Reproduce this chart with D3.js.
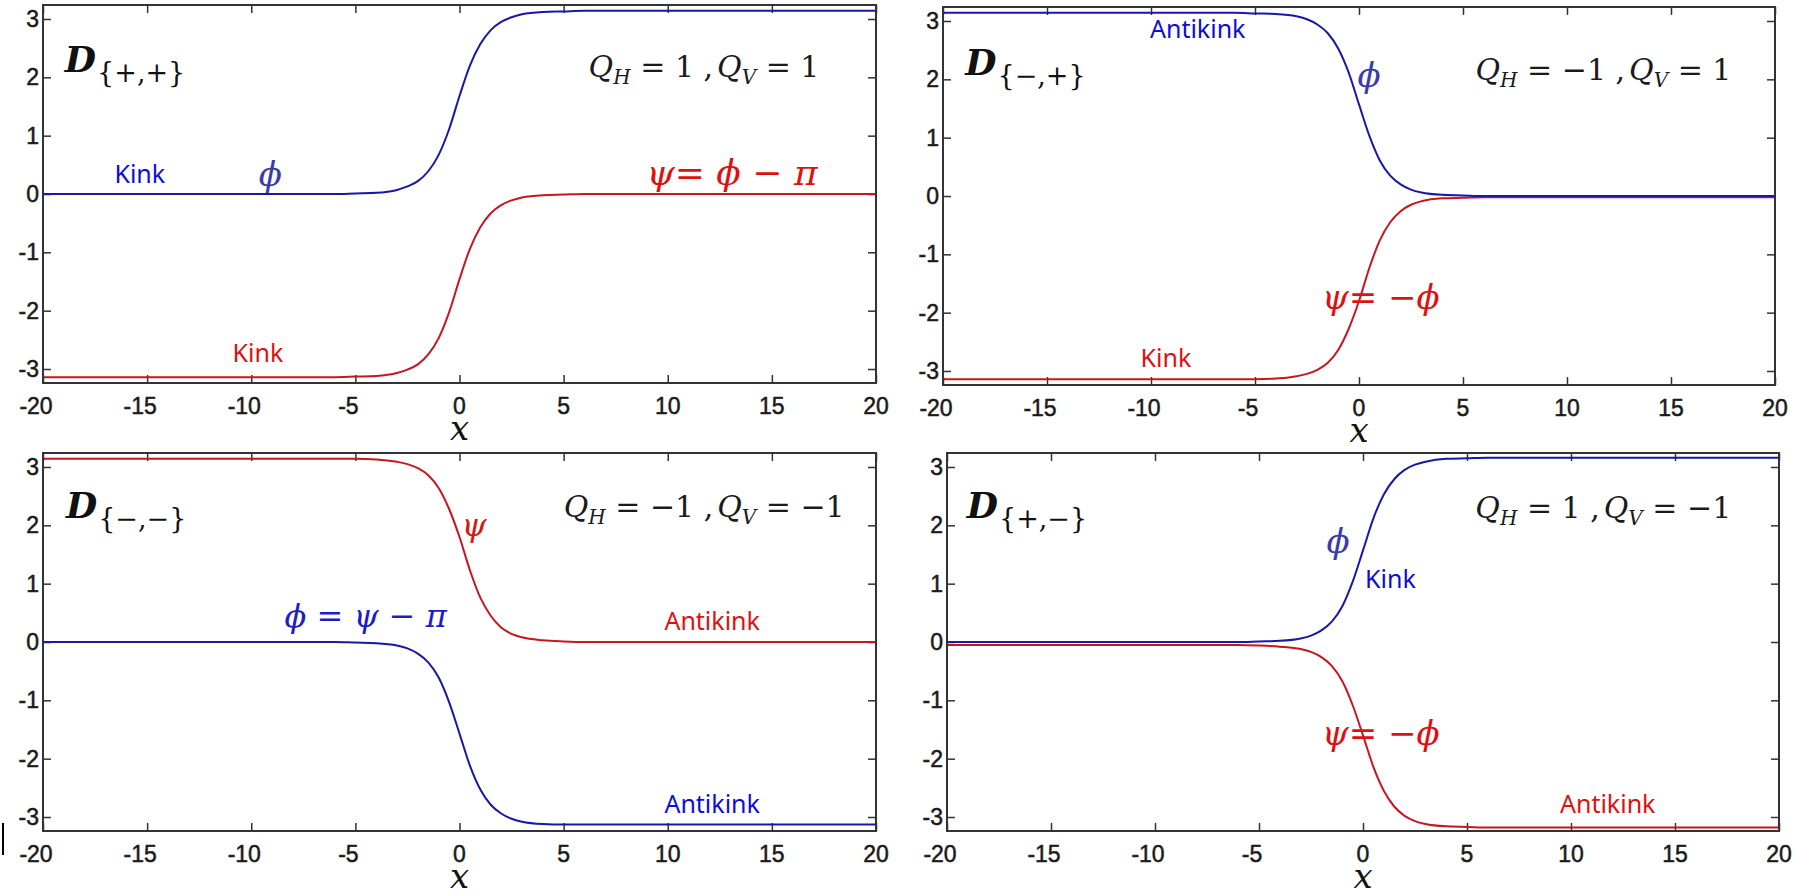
<!DOCTYPE html>
<html>
<head>
<meta charset="utf-8">
<script src="https://cdn.jsdelivr.net/npm/d3@7"></script>
<style>
  body { margin: 0; background: #fff; }
  text { white-space: pre; }
</style>
</head>
<body>
<script>
// sample positions along x, and the four kink / antikink profiles
const xs = [-20, -6, -5, -4, -3, -2.5, -2, -1.5, -1, -0.5, 0, 0.5, 1, 1.5, 2, 2.5, 3, 4, 5, 6, 20];

const tlPhi = [0, 0, 0.01, 0.02, 0.07, 0.13, 0.22, 0.39, 0.67, 1.11, 1.68, 2.2, 2.57, 2.81, 2.95, 3.03, 3.08, 3.12, 3.13, 3.14, 3.14];
const tlPsi = [-3.14, -3.14, -3.13, -3.12, -3.07, -3.01, -2.92, -2.75, -2.47, -2.03, -1.46, -0.94, -0.57, -0.33, -0.19, -0.11, -0.06, -0.02, -0.01, 0, 0];

const trPhi = [3.14, 3.14, 3.13, 3.12, 3.08, 3.03, 2.94, 2.79, 2.53, 2.12, 1.57, 1.03, 0.61, 0.35, 0.2, 0.11, 0.06, 0.02, 0.01, 0, 0];
const trPsi = [-3.14, -3.14, -3.14, -3.13, -3.09, -3.05, -2.98, -2.86, -2.64, -2.28, -1.8, -1.23, -0.76, -0.45, -0.26, -0.15, -0.09, -0.04, -0.03, -0.02, -0.02];

const blPsi = [3.14, 3.14, 3.14, 3.13, 3.09, 3.05, 2.98, 2.86, 2.64, 2.28, 1.8, 1.23, 0.76, 0.45, 0.25, 0.14, 0.08, 0.03, 0.01, 0, 0];
const blPhi = [0, 0, -0.01, -0.02, -0.06, -0.11, -0.2, -0.35, -0.61, -1.03, -1.57, -2.12, -2.53, -2.79, -2.94, -3.03, -3.08, -3.12, -3.13, -3.13, -3.13];

const brPhi = [0, 0, 0.01, 0.02, 0.06, 0.11, 0.2, 0.35, 0.61, 1.03, 1.57, 2.12, 2.53, 2.79, 2.95, 3.04, 3.09, 3.14, 3.15, 3.16, 3.16];
const brPsi = [-0.05, -0.05, -0.06, -0.08, -0.12, -0.17, -0.26, -0.41, -0.67, -1.08, -1.6, -2.14, -2.55, -2.82, -2.98, -3.07, -3.12, -3.16, -3.17, -3.18, -3.18];

const xTicks = [-20, -15, -10, -5, 0, 5, 10, 15, 20];
const yTicks = [-3, -2, -1, 0, 1, 2, 3];
const xDomain = [-20, 20];
const yDomain = [-3.24, 3.24];

const signs = ["{+,+}", "{\u2212,+}", "{\u2212,\u2212}", "{+,\u2212}"];
const chargeH = ["1", "\u22121", "\u22121", "1"];
const chargeV = ["1", "1", "\u22121", "\u22121"];

const W = 1799, H = 895;
const lineBlue = "#1818a8", lineRed = "#c8161e";
const textBlue = "#0c0cdc", textRed = "#e01010", greekBlue = "#3b3bab";

// panel boxes and where the notes sit (note x, y are in data units)
const panels = [
  {left: 43, right: 876, top: 5, bottom: 383, phi: tlPhi, psi: tlPsi,
   tag: [-18.95, 2.09], q: [6.2, 2.01],
   notes: [
     {t: "Kink", x: -16.57, y: 0.19, c: textBlue},
     {t: "\u03d5", x: -9.08, y: 0.14, c: greekBlue, math: 34, mid: true},
     {t: "Kink", x: -10.9, y: -2.88, c: textRed},
     {t: "\u03c8= \u03d5 \u2212 \u03c0", x: 8.98, y: 0.15, c: textRed, math: 36}
   ]},
  {left: 943, right: 1775, top: 7, bottom: 385, phi: trPhi, psi: trPsi,
   tag: [-18.93, 2.07], q: [5.6, 1.99],
   notes: [
     {t: "Antikink", x: -10.05, y: 2.71, c: textBlue},
     {t: "\u03d5", x: 0.48, y: 1.87, c: greekBlue, math: 34, mid: true},
     {t: "\u03c8= \u2212\u03d5", x: -1.78, y: -1.94, c: textRed, math: 34},
     {t: "Kink", x: -10.5, y: -2.93, c: textRed}
   ]},
  {left: 43, right: 876, top: 453, bottom: 831, phi: blPhi, psi: blPsi,
   tag: [-18.9, 2.13], q: [5.0, 2.14],
   notes: [
     {t: "\u03c8", x: 0.1, y: 1.82, c: "#d41818", math: 32},
     {t: "\u03d5 = \u03c8 \u2212 \u03c0", x: -8.4, y: 0.26, c: "#1c1cc8", math: 32},
     {t: "Antikink", x: 9.84, y: 0.21, c: textRed},
     {t: "Antikink", x: 9.84, y: -2.93, c: textBlue}
   ]},
  {left: 947, right: 1779, top: 453, bottom: 831, phi: brPhi, psi: brPsi,
   tag: [-19.05, 2.13], q: [5.4, 2.13],
   notes: [
     {t: "\u03d5", x: -1.2, y: 1.53, c: greekBlue, math: 34, mid: true},
     {t: "Kink", x: 0.1, y: 0.93, c: textBlue},
     {t: "\u03c8= \u2212\u03d5", x: -1.97, y: -1.77, c: textRed, math: 34},
     {t: "Antikink", x: 9.47, y: -2.93, c: textRed}
   ]}
];

const svg = d3.select("body").append("svg")
  .attr("width", W)
  .attr("height", H);

svg.append("rect").attr("width", W).attr("height", H).attr("fill", "#fff");

panels.forEach((p, i) => {
  const x = d3.scaleLinear().domain(xDomain).range([p.left, p.right]);
  const y = d3.scaleLinear().domain(yDomain).range([p.bottom, p.top]);
  const g = svg.append("g");

  const clipId = "clip" + i;
  svg.append("clipPath").attr("id", clipId)
    .append("rect")
    .attr("x", p.left).attr("y", p.top - 2)
    .attr("width", p.right - p.left).attr("height", p.bottom - p.top + 4);

  // ticks on all four sides, pointing inwards
  const tickLen = 8;
  const axes = [
    [d3.axisBottom(x).tickValues(xTicks), 0, p.bottom],
    [d3.axisTop(x).tickValues(xTicks), 0, p.top],
    [d3.axisLeft(y).tickValues(yTicks), p.left, 0],
    [d3.axisRight(y).tickValues(yTicks), p.right, 0]
  ];
  axes.forEach(([ax, tx, ty]) => {
    const a = g.append("g")
      .attr("transform", `translate(${tx},${ty})`)
      .call(ax.tickSizeInner(-tickLen).tickSizeOuter(0).tickPadding(0));
    a.select(".domain").remove();
    a.selectAll(".tick line").attr("stroke", "#333").attr("stroke-width", 1.5);
    a.selectAll(".tick text").remove();
  });

  // tick labels
  g.selectAll(".xl").data(xTicks).enter().append("text")
    .attr("x", (d) => x(d))
    .attr("y", p.bottom + 31)
    .attr("dx", (d) => (d < 0 ? -7 : 0))
    .attr("text-anchor", "middle")
    .attr("font-family", "'Liberation Sans', Arial, sans-serif")
    .attr("font-size", 23)
    .attr("fill", "#1a1a1a")
    .attr("stroke", "#1a1a1a").attr("stroke-width", 0.5)
    .text((d) => String(d));

  g.selectAll(".yl").data(yTicks).enter().append("text")
    .attr("x", p.left - 4)
    .attr("y", (d) => y(d))
    .attr("dy", "0.35em")
    .attr("text-anchor", "end")
    .attr("font-family", "'Liberation Sans', Arial, sans-serif")
    .attr("font-size", 23)
    .attr("fill", "#1a1a1a")
    .attr("stroke", "#1a1a1a").attr("stroke-width", 0.5)
    .text((d) => String(d));

  g.append("text")
    .attr("x", x(0))
    .attr("y", p.bottom + 57)
    .attr("text-anchor", "middle")
    .attr("font-family", "'DejaVu Serif', serif")
    .attr("font-style", "italic")
    .attr("font-size", 34)
    .attr("fill", "#111")
    .text("x");

  // curves
  const line = d3.line()
    .x((d) => x(d[0]))
    .y((d) => y(d[1]))
    .curve(d3.curveMonotoneX);

  const curves = g.append("g").attr("clip-path", `url(#${clipId})`);
  curves.append("path")
    .datum(xs.map((v, k) => [v, p.psi[k]]))
    .attr("d", line)
    .attr("fill", "none")
    .attr("stroke", lineRed)
    .attr("stroke-width", 2);
  curves.append("path")
    .datum(xs.map((v, k) => [v, p.phi[k]]))
    .attr("d", line)
    .attr("fill", "none")
    .attr("stroke", lineBlue)
    .attr("stroke-width", 2);

  // box
  g.append("rect")
    .attr("x", p.left).attr("y", p.top)
    .attr("width", p.right - p.left).attr("height", p.bottom - p.top)
    .attr("fill", "none")
    .attr("stroke", "#333")
    .attr("stroke-width", 2);

  // D_{..} tag
  const tag = g.append("text")
    .attr("x", x(p.tag[0]))
    .attr("y", y(p.tag[1]))
    .attr("font-family", "'DejaVu Serif', serif")
    .attr("fill", "#111");
  tag.append("tspan")
    .attr("font-weight", "bold").attr("font-style", "italic")
    .attr("font-size", 36).text("D");
  tag.append("tspan")
    .attr("font-size", 27).attr("dy", 10).attr("dx", 1)
    .text(signs[i]);

  // Q_H, Q_V charges
  const q = g.append("text")
    .attr("x", x(p.q[0]))
    .attr("y", y(p.q[1]))
    .attr("font-family", "'DejaVu Serif', serif")
    .attr("font-size", 30)
    .attr("fill", "#1a1a1a");
  q.append("tspan").attr("font-style", "italic").text("Q");
  q.append("tspan").attr("font-style", "italic").attr("font-size", 20).attr("dy", 7).text("H");
  q.append("tspan").attr("dy", -7).text(" = " + chargeH[i] + " ,");
  q.append("tspan").attr("font-style", "italic").attr("dx", 4).text("Q");
  q.append("tspan").attr("font-style", "italic").attr("font-size", 20).attr("dy", 7).text("V");
  q.append("tspan").attr("dy", -7).text(" = " + chargeV[i]);

  // curve notes
  g.selectAll(".note").data(p.notes).enter().append("text")
    .attr("x", (d) => x(d.x))
    .attr("y", (d) => y(d.y))
    .attr("text-anchor", (d) => (d.mid ? "middle" : "start"))
    .attr("font-family", (d) => (d.math ? "'DejaVu Serif', serif" : "'Noto Sans', 'Open Sans', sans-serif"))
    .attr("font-style", (d) => (d.math ? "italic" : "normal"))
    .attr("font-size", (d) => d.math || 25)
    .attr("fill", (d) => d.c)
    .text((d) => d.t);
});

// small stray mark at the lower left edge of the figure
svg.append("line")
  .attr("x1", 3).attr("x2", 3)
  .attr("y1", 823).attr("y2", 855)
  .attr("stroke", "#000").attr("stroke-width", 2);
</script>
</body>
</html>
